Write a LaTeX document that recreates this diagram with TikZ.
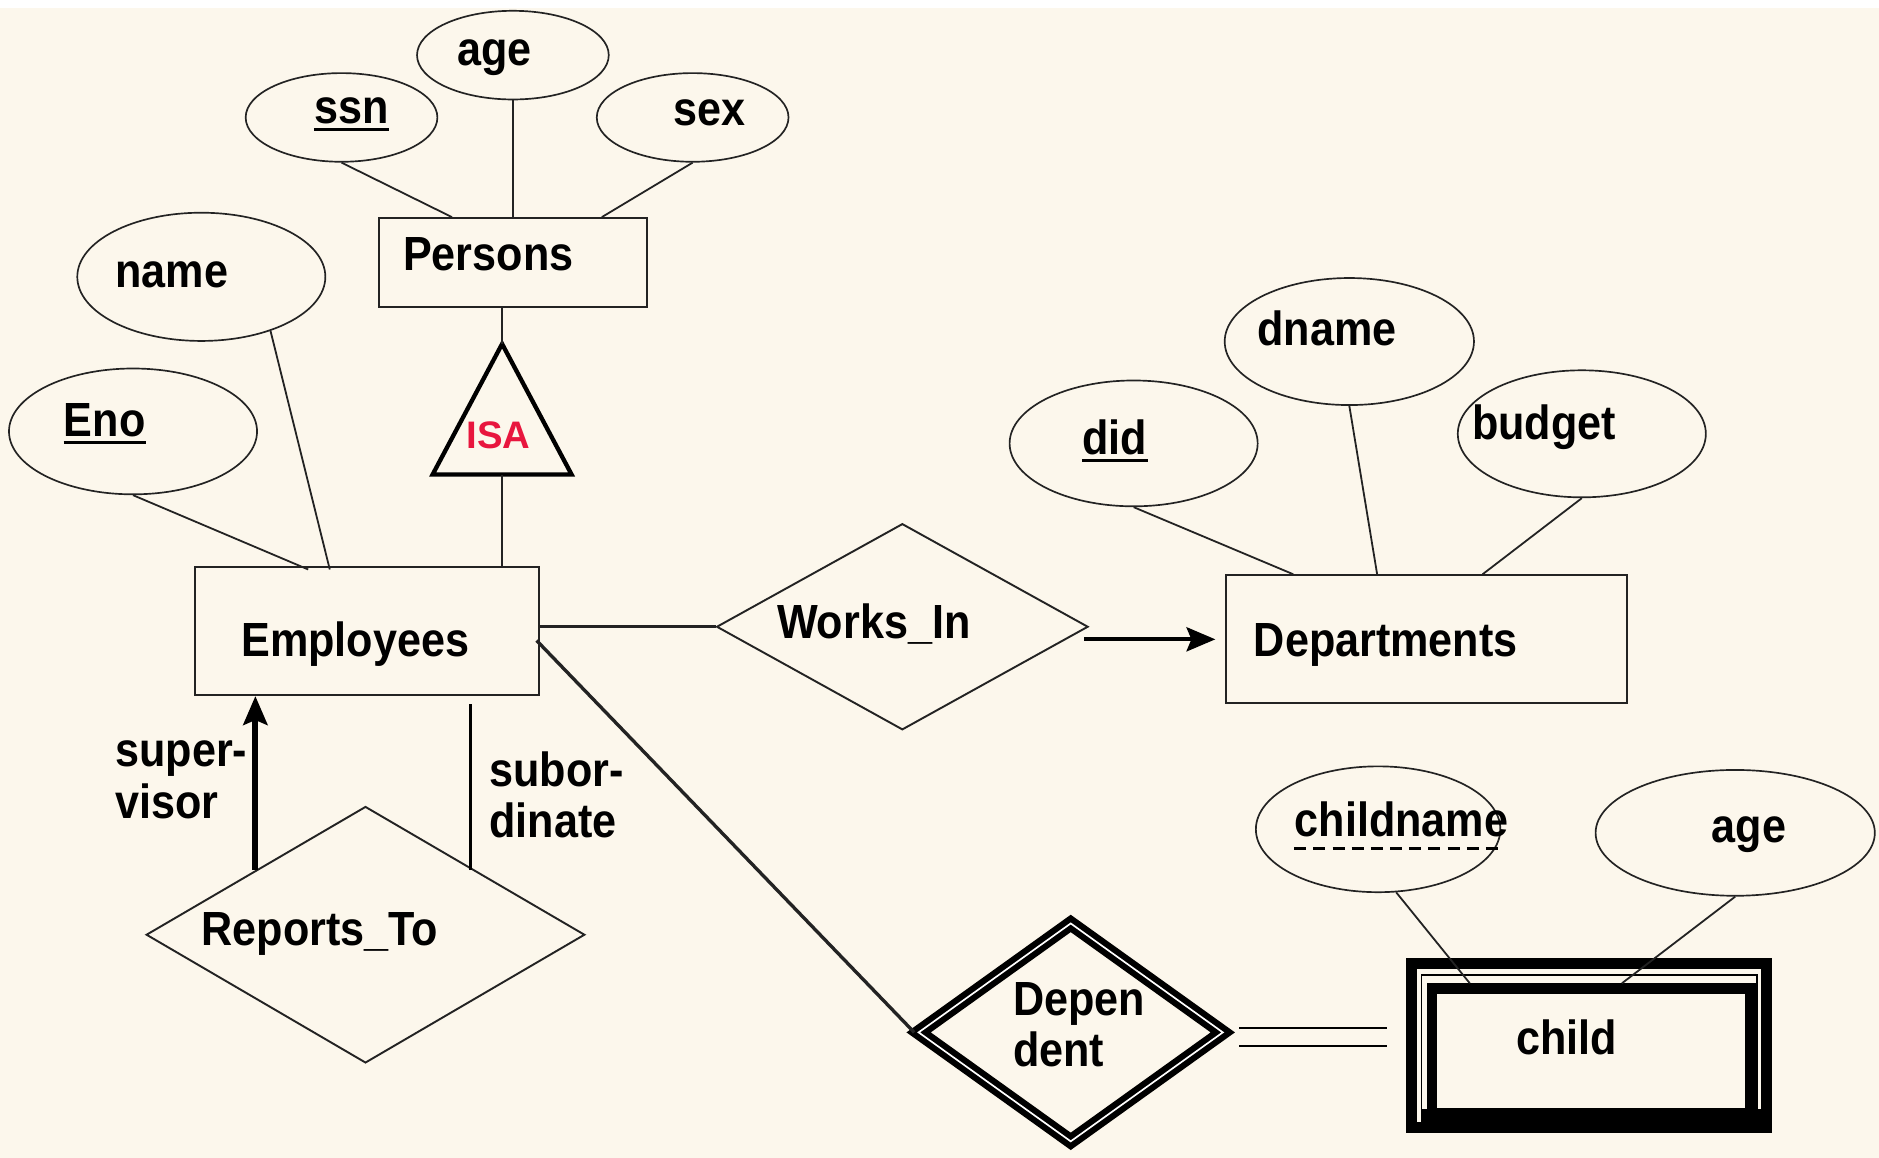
\documentclass[tikz,border=0pt]{standalone}
\usepackage{fontspec}
\setmainfont{Liberation Sans}[FakeStretch=0.9]
\newfontfamily\isafont{Liberation Sans}
\usetikzlibrary{shapes.geometric,arrows.meta,calc}
\definecolor{bgcream}{RGB}{252,247,236}
\definecolor{isared}{RGB}{232,22,62}
\definecolor{linegray}{RGB}{35,35,35}
\begin{document}
\begin{tikzpicture}[x=0.5pt,y=-0.5pt,
  attr/.style={draw=linegray, ellipse, inner sep=0pt, line width=0.7pt},
  ent/.style={draw=linegray, rectangle, inner sep=0pt, line width=0.8pt},
  rel/.style={draw=linegray, diamond, inner sep=0pt, line width=0.8pt},
  lbl/.style={inner sep=0pt, anchor=base west, font=\fontsize{20}{21.5}\selectfont\bfseries, text=black, align=left},
  conn/.style={draw=linegray, line width=0.75pt},
  keyline/.style={line width=1.2pt, draw=black},
]
\fill[bgcream] (0,0) rectangle (1568,966);
\fill[white] (0,0) rectangle (1568,7);
\useasboundingbox (0,0) rectangle (1568,966);

% attribute ellipses
\node[attr, minimum width=80pt, minimum height=37pt] (ssnE) at (285,98) {};
\node[attr, minimum width=80pt, minimum height=37pt] (ageE) at (428,46) {};
\node[attr, minimum width=80pt, minimum height=37pt] (sexE) at (578,98) {};
\node[attr, minimum width=103.5pt, minimum height=53.5pt] (nameE) at (168,231) {};
\node[attr, minimum width=103.5pt, minimum height=52.5pt] (enoE) at (111,360) {};
\node[attr, minimum width=103.5pt, minimum height=52.5pt] (didE) at (946,370) {};
\node[attr, minimum width=104pt, minimum height=53pt] (dnameE) at (1126,285) {};
\node[attr, minimum width=103.5pt, minimum height=53pt] (budgetE) at (1320,362) {};
\node[attr, minimum width=102pt, minimum height=52.5pt] (cnameE) at (1150,692) {};
\node[attr, minimum width=116.5pt, minimum height=52.5pt] (cageE) at (1448,695) {};

% entity rectangles
\node[ent, minimum width=112pt, minimum height=37pt] (persons) at (428,219) {};
\node[ent, minimum width=143.5pt, minimum height=53.5pt] (employees) at (306.5,526.5) {};
\node[ent, minimum width=167.5pt, minimum height=53.5pt] (departments) at (1190.5,533.5) {};

% relationship diamonds
\node[rel, minimum width=155pt, minimum height=86pt] (worksin) at (753,523) {};
\node[rel, minimum width=183pt, minimum height=107pt] (reports) at (305,780) {};

% ISA triangle
\coordinate (isaTop) at (419,287);
\coordinate (isaBot) at (419,396);
\draw[line width=1.8pt, line join=miter] (isaTop) -- (361,396) -- (477,396) -- cycle;

% connectors
\draw[conn] (ssnE.south) -- ($(persons.north west)+(62,0)$);
\draw[conn] (ageE.south) -- (ageE.south |- persons.north);
\draw[conn] (sexE.south) -- ($(persons.north west)+(187,0)$);
\draw[conn] (persons.south -| isaTop) -- (isaTop);
\draw[conn] (isaBot) -- (isaBot |- employees.north);
\draw[conn] (nameE.-38) -- ($(employees.north west)+(113,3)$);
\draw[conn] (enoE.south) -- ($(employees.north west)+(95,3)$);
\draw[conn] (didE.south) -- ($(departments.north west)+(57,0)$);
\draw[conn] (dnameE.south) -- ($(departments.north west)+(127,0)$);
\draw[conn] (budgetE.south) -- ($(departments.north west)+(215,0)$);

\draw[conn, line width=1.1pt] (worksin.west -| employees.east) -- (worksin.west);
\draw[line width=1.8pt, -{Stealth[length=12pt,width=10pt,inset=2pt]}]
  ([xshift=-2pt]worksin.east |- departments.west) -- ([xshift=-4pt]departments.west);

\draw[line width=2.5pt, -{Stealth[length=12pt,width=10pt,inset=2pt]}]
  (reports.north west) -- (reports.north west |- employees.south);
\draw[line width=1.3pt] ([xshift=-2pt]reports.north east) -- ([xshift=-2pt,yshift=-3.5pt]reports.north east |- employees.south);

% weak entity and identifying relationship
\node[rel, draw=black, line width=2.6pt, double=white, double distance=0.7pt,
      minimum width=128pt, minimum height=92pt] (dependent) at (893.5,861.5) {};
\draw[conn, line width=1.4pt] ($(employees.east)+(-3,8)$) -- (dependent.west);

\node[draw=black, line width=4.5pt, inner sep=0pt, minimum width=148pt, minimum height=68.5pt] (childOut) at (1326,872.5) {};
\node[draw=black, line width=0.6pt, inner sep=0pt, minimum width=140pt, minimum height=62pt] (childMid) at (1326,875.5) {};
\node[draw=black, line width=4.5pt, inner sep=0pt, minimum width=133pt, minimum height=52pt] (childIn) at (1328,877) {};
\fill ($(childIn.south west)+(-4.5,-8)$) rectangle ($(childIn.south east)+(4.5,5)$);

\draw[line width=0.8pt, double=bgcream, double distance=6.5pt]
  ([xshift=5pt,yshift=-2pt]dependent.east) -- ([xshift=-8pt,yshift=-2pt]dependent.east -| childOut.west);

\draw[conn] (cnameE.-74) -- ($(childIn.north west)+(36,0)$);
\draw[conn] (cageE.south) -- ($(childIn.north west)+(163,0)$);

% texts
\node[lbl] (ssnT) at (262,103) {ssn};
\draw[keyline] ([yshift=-2.6pt]ssnT.base west) -- ([yshift=-2.6pt]ssnT.base east);
\node[lbl] (ageT) at (381,55) {age};
\node[lbl] (sexT) at (562,105) {sex};
\node[lbl] (personsT) at (336,226) {Persons};
\node[lbl] (nameT) at (96,240) {name};
\node[lbl] (enoT) at (53,364) {Eno};
\draw[keyline] ([yshift=-2.8pt]enoT.base west) -- ([yshift=-2.8pt]enoT.base east);
\node[inner sep=0pt, anchor=base west, font=\isafont\fontsize{16}{18}\selectfont\bfseries, text=isared] (isaT) at (389,374) {ISA};
\node[lbl] (employeesT) at (201,548) {Employees};
\node[lbl] (worksinT) at (648,533) {Works\_In};
\node[lbl] (departmentsT) at (1046,548) {Departments};
\node[lbl] (didT) at (903,379) {did};
\draw[keyline] ([yshift=-2.6pt]didT.base west) -- ([yshift=-2.6pt]didT.base east);
\node[lbl] (dnameT) at (1049,288) {dname};
\node[lbl] (budgetT) at (1228,367) {budget};
\node[lbl] (superT) at (96,683) {super-\\visor};
\node[lbl] (suborT) at (408,699) {subor-\\dinate};
\node[lbl] (reportsT) at (168,789) {Reports\_To};
\node[lbl] (dependentT) at (845,890) {Depen\\dent};
\node[lbl] (cnameT) at (1080,698) {childname};
\draw[line width=1pt, dash pattern=on 5pt off 3pt] ([yshift=-5pt]cnameT.base west) -- ([yshift=-5pt,xshift=-2pt]cnameT.base east);
\node[lbl] (cageT) at (1428,703) {age};
\node[lbl] (childT) at (1265,880) {child};
\end{tikzpicture}
\end{document}
